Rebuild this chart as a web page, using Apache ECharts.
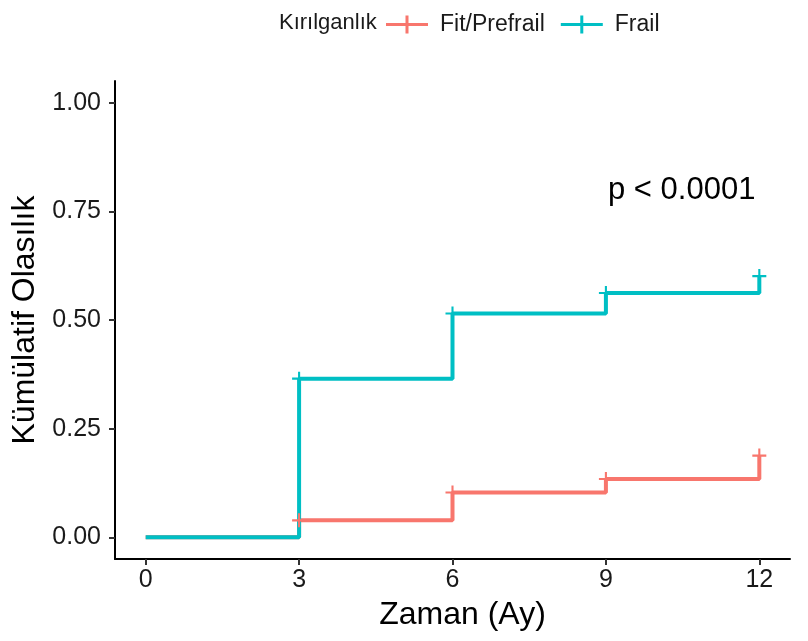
<!DOCTYPE html>
<html>
<head>
<meta charset="utf-8">
<script src="https://cdn.jsdelivr.net/npm/echarts@6/dist/echarts.min.js"></script>
<style>
  html, body { margin: 0; background: #fff; }
  #chart { width: 808px; height: 641px; }
</style>
</head>
<body>
<div id="chart"></div>
<script>
// step times (months) and cumulative probability after each step
var months = [0, 3, 6, 9, 12];
var fitPrefrail = [0, 0.039, 0.103, 0.134, 0.188];
var frail = [0, 0.365, 0.515, 0.562, 0.601];

// censor marks
var censorMonths = [3, 6, 9, 12];
var fitCensor = [0.039, 0.103, 0.134, 0.188];
var frailCensor = [0.365, 0.515, 0.562, 0.601];

var xTicks = [0, 3, 6, 9, 12];
var yTicks = [0, 0.25, 0.5, 0.75, 1];

var groupNames = ['Fit/Prefrail', 'Frail'];
var colors = ['#F8766D', '#00BFC4'];

var font = 'Liberation Sans, Arial, sans-serif';
var plus = 'path://M8.5,0H11.5V8.5H20V11.5H11.5V20H8.5V11.5H0V8.5H8.5Z';
var legendPlus = 'path://M0,7.5H42V10.5H0Z M19.5,0H22.5V18H19.5Z';

function pairs(xs, ys) {
    return xs.map(function (x, i) { return [x, ys[i]]; });
}

var el = document.getElementById('chart');
var myChart = echarts.init(el);

var option = {
    animation: false,
    textStyle: { fontFamily: font },
    color: colors,
    title: {
        text: 'Kırılganlık',
        left: 274,
        top: 7,
        textStyle: { fontSize: 22, fontWeight: 'normal', color: '#1a1a1a', fontFamily: font }
    },
    legend: {
        data: groupNames,
        left: 381,
        top: 8,
        icon: legendPlus,
        itemWidth: 42,
        itemHeight: 18,
        itemGap: 16,
        textStyle: { fontSize: 23, color: '#1a1a1a', fontFamily: font, padding: [0, 0, 0, 7] }
    },
    grid: { left: 115, right: 18, top: 81, bottom: 82 },
    xAxis: {
        type: 'value',
        min: -0.6,
        max: 12.6,
        name: 'Zaman (Ay)',
        nameLocation: 'middle',
        nameGap: 40,
        nameTextStyle: { fontSize: 32, color: '#000', fontFamily: font, padding: [0, 0, 0, 20] },
        splitLine: { show: false },
        axisLine: { show: true, onZero: false, lineStyle: { color: '#000', width: 2 } },
        axisTick: { show: true, length: 6, customValues: xTicks, lineStyle: { color: '#333', width: 2 } },
        axisLabel: { customValues: xTicks, fontSize: 25, color: '#1a1a1a', margin: 9, fontFamily: font }
    },
    yAxis: {
        type: 'value',
        min: -0.05,
        max: 1.05,
        name: 'Kümülatif Olasılık',
        nameLocation: 'middle',
        nameGap: 71,
        nameTextStyle: { fontSize: 32, color: '#000', fontFamily: font },
        splitLine: { show: false },
        axisLine: { show: true, onZero: false, lineStyle: { color: '#000', width: 2 } },
        axisTick: { show: true, length: 6, customValues: yTicks, lineStyle: { color: '#333', width: 2 } },
        axisLabel: {
            customValues: yTicks,
            fontSize: 25,
            color: '#1a1a1a',
            margin: 14,
            fontFamily: font,
            formatter: function (v) { return v.toFixed(2); }
        }
    },
    graphic: [{
        type: 'text',
        left: 608,
        top: 175,
        style: { text: 'p < 0.0001', font: '31px ' + font, fill: '#000' }
    }],
    series: [{
        name: groupNames[0],
        type: 'line',
        step: 'end',
        showSymbol: false,
        lineStyle: { width: 4, color: colors[0] },
        data: pairs(months, fitPrefrail),
        z: 2
    }, {
        name: groupNames[1],
        type: 'line',
        step: 'end',
        showSymbol: false,
        lineStyle: { width: 4, color: colors[1] },
        data: pairs(months, frail),
        z: 3
    }, {
        name: groupNames[0],
        type: 'scatter',
        symbol: plus,
        symbolSize: 14,
        itemStyle: { color: colors[0], opacity: 1 },
        data: pairs(censorMonths, fitCensor),
        z: 4
    }, {
        name: groupNames[1],
        type: 'scatter',
        symbol: plus,
        symbolSize: 14,
        itemStyle: { color: colors[1], opacity: 1 },
        data: pairs(censorMonths, frailCensor),
        z: 5
    }]
};
myChart.setOption(option);
</script>
</body>
</html>
